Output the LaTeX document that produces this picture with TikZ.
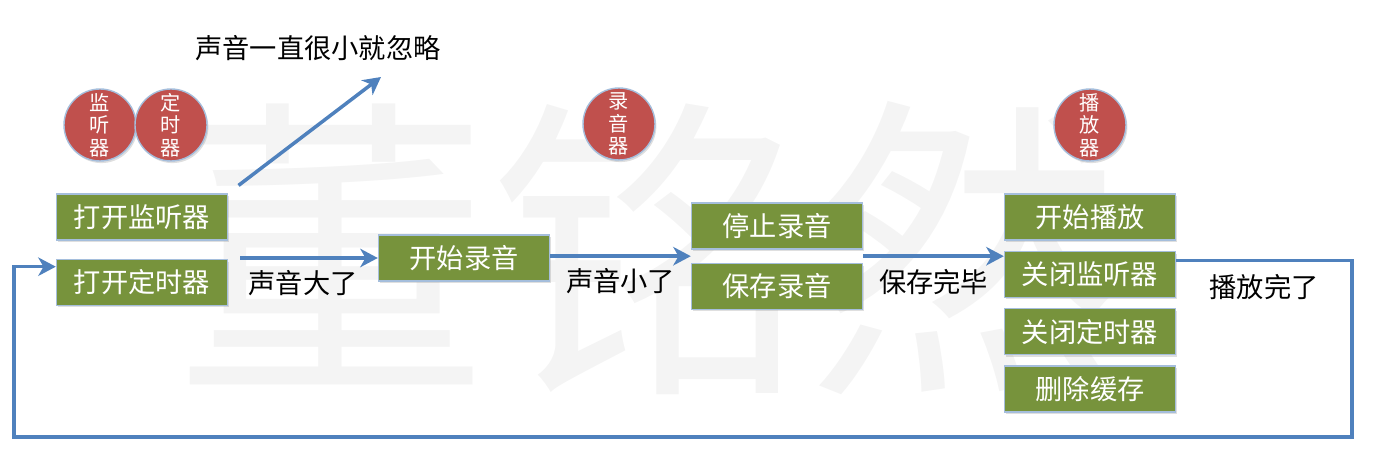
\documentclass[tikz,border=0pt]{standalone}
\usepackage{fontspec}
\setmainfont{Noto Sans CJK SC}
\usepackage{tikz}
\usetikzlibrary{arrows.meta, positioning, calc, shadows}
\definecolor{myblue}{RGB}{79,129,189}
\definecolor{myolive}{RGB}{119,147,60}
\definecolor{myred}{RGB}{192,80,77}
\definecolor{myedge}{RGB}{165,190,220}
\definecolor{mymark}{RGB}{244,244,244}
\tikzset{
  stepbox/.style={rectangle, draw=myedge, fill=myolive, text=white,
    minimum width=3.42cm, minimum height=0.92cm,
    font=\fontsize{15.5}{18}\selectfont, line width=0.8pt,
    drop shadow={opacity=0.25, shadow xshift=0.8pt, shadow yshift=-1.2pt}},
  partnode/.style={circle, draw=myedge, fill=myred, text=white,
    minimum size=1.44cm, inner sep=0pt, align=center,
    font=\fontsize{11.5}{12.8}\selectfont, line width=0.8pt,
    drop shadow={opacity=0.25, shadow xshift=0.8pt, shadow yshift=-1.2pt}},
  lbl/.style={font=\fontsize{15.5}{18}\selectfont, text=black, inner sep=2pt},
  arrow/.style={-{Stealth[length=10pt, width=10.5pt, inset=3pt]}, line width=2pt, color=myblue}
}

\begin{document}
\begin{tikzpicture}[x=0.02cm, y=-0.02cm]
  \useasboundingbox (0,0) rectangle (1374,462);

  % Watermark
  \node[text=mymark, font=\fontsize{180}{180}\selectfont, inner sep=0pt] (mark) at (648,248) {董铭然};

  % Parts
  \node[partnode] (jtq) at (100,125) {监\\听\\器};
  \node[partnode] (dsq) at (171,125) {定\\时\\器};
  \node[partnode] (lyq) at (619,124) {录\\音\\器};
  \node[partnode] (bfq) at (1090,125) {播\\放\\器};

  % Column 1
  \node[stepbox] (dkjt) at (142,217) {打开监听器};
  \node[stepbox, below=0.36cm of dkjt] (dkds) {打开定时器};

  % Column 2
  \node[stepbox] (ksly) at (464,258) {开始录音};

  % Column 3
  \node[stepbox] (tzly) at (777,226) {停止录音};
  \node[stepbox, below=0.26cm of tzly] (bcly) {保存录音};

  % Column 4
  \node[stepbox] (ksbf) at (1090,217) {开始播放};
  \node[stepbox, below=0.2cm of ksbf] (gbjt) {关闭监听器};
  \node[stepbox, below=0.2cm of gbjt] (gbds) {关闭定时器};
  \node[stepbox, below=0.2cm of gbds] (schc) {删除缓存};

  % Helper points
  \coordinate (ignend) at (381,77);
  \coordinate (gap) at ($(tzly.south)!0.5!(bcly.north)$);
  \coordinate (loopr) at (1352,437);
  \coordinate (loopl) at (14,437);

  % Connective paths
  \draw[arrow, shorten <=0.26cm] (dkjt.north east) -- (ignend);
  \node[lbl] (ignlbl) at (318,48) {声音一直很小就忽略};
  \draw[arrow, shorten <=0.24cm] (dkds.east |- ksly.west) -- (ksly.west)
    node[lbl, midway, yshift=-0.5cm] (louder) {声音大了};
  \draw[arrow] (ksly.east |- gap) -- (gap -| tzly.west)
    node[lbl, midway, yshift=-0.5cm] (quieter) {声音小了};
  \draw[arrow] (gap -| tzly.east) -- (gap -| gbjt.west)
    node[lbl, midway, yshift=-0.52cm] (saved) {保存完毕};
  \draw[arrow] ([yshift=-0.2cm]gbjt.north east)
    -| node[lbl, pos=0.25, yshift=-0.52cm] (played) {播放完了} (loopr)
    -- (loopl) |- ([yshift=-0.16cm]dkds.north west);
\end{tikzpicture}
\end{document}
